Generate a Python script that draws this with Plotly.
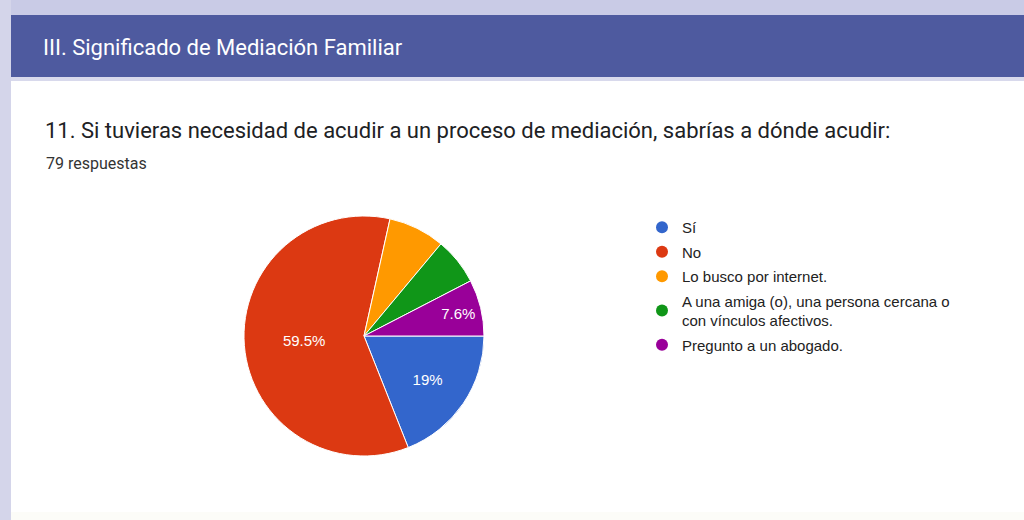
import plotly.graph_objects as go

W, H = 1024, 520

labels = ["Sí", "No", "Lo busco por internet.",
          "A una amiga (o), una persona cercana o<br>con vínculos afectivos.",
          "Pregunto a un abogado."]
counts = [15, 47, 6, 5, 6]
slice_text = ["19%", "59.5%", "", "", "7.6%"]
colors = ["#3366cc", "#dc3912", "#ff9900", "#109618", "#990099"]

section_title = "III. Significado de Mediación Familiar"
question = "11. Si tuvieras necesidad de acudir a un proceso de mediación, sabrías a dónde acudir:"
n_resp = "79 respuestas"


def px_x(v):
    return v / W


def px_y(v):
    return 1 - v / H


fig = go.Figure()

# pie centred at (364, 336), radius ~120 px
fig.add_trace(go.Pie(
    labels=labels, values=counts, text=slice_text,
    texttemplate="%{text}", textposition="inside",
    insidetextorientation="horizontal",
    textfont=dict(family="Arial", size=15, color="white"),
    marker=dict(colors=colors, line=dict(color="white", width=1)),
    sort=False, direction="clockwise", rotation=90,
    domain=dict(x=[px_x(244), px_x(484)], y=[px_y(456), px_y(216)]),
    showlegend=False, hoverinfo="label+value+percent",
))

# legend entries with round markers, like Google Charts
for i, (lab, col) in enumerate(zip(labels, colors)):
    fig.add_trace(go.Scatter(
        x=[None], y=[None], mode="markers", name=lab,
        marker=dict(color=col, size=14, symbol="circle"),
        legendgroup=f"g{i}", showlegend=True,
    ))

shapes = [
    # lavender frame round the card
    dict(type="rect", xref="paper", yref="paper", x0=0, x1=1,
         y0=px_y(15), y1=1, fillcolor="#c9cbe6", line_width=0, layer="below"),
    dict(type="rect", xref="paper", yref="paper", x0=0, x1=px_x(11),
         y0=0, y1=1, fillcolor="#d4d5ea", line_width=0, layer="below"),
    # section header bar
    dict(type="rect", xref="paper", yref="paper", x0=px_x(11), x1=1,
         y0=px_y(77), y1=px_y(15), fillcolor="#4e5a9f", line_width=0, layer="below"),
    dict(type="rect", xref="paper", yref="paper", x0=px_x(11), x1=1,
         y0=px_y(81), y1=px_y(77), fillcolor="#d8d9ec", line_width=0, layer="below"),
    dict(type="rect", xref="paper", yref="paper", x0=px_x(11), x1=1,
         y0=0, y1=px_y(512), fillcolor="#fcfcf8", line_width=0, layer="below"),
]

annotations = [
    dict(text=section_title, x=px_x(41), y=px_y(47), xref="paper", yref="paper",
         xanchor="left", yanchor="middle", showarrow=False,
         font=dict(family="Roboto", size=22, color="white")),
    dict(text=question, x=px_x(43), y=px_y(130), xref="paper", yref="paper",
         xanchor="left", yanchor="middle", showarrow=False,
         font=dict(family="Roboto", size=22, color="#202124")),
    dict(text=n_resp, x=px_x(44), y=px_y(163), xref="paper", yref="paper",
         xanchor="left", yanchor="middle", showarrow=False,
         font=dict(family="Roboto", size=16, color="#333333")),
]

fig.update_layout(
    width=W, height=H,
    margin=dict(l=0, r=0, t=0, b=0),
    paper_bgcolor="white", plot_bgcolor="rgba(0,0,0,0)",
    xaxis=dict(visible=False), yaxis=dict(visible=False),
    shapes=shapes, annotations=annotations,
    legend=dict(x=px_x(642), y=px_y(211), xanchor="left", yanchor="top",
                bgcolor="rgba(0,0,0,0)", tracegroupgap=2,
                itemsizing="constant",
                font=dict(family="Arial", size=15, color="#222222")),
)

# drop the default 8px body margin so the figure sits at the page corner
fig.write_html("out.html", config={"displayModeBar": False},
               post_script="document.body.style.margin='0';")
